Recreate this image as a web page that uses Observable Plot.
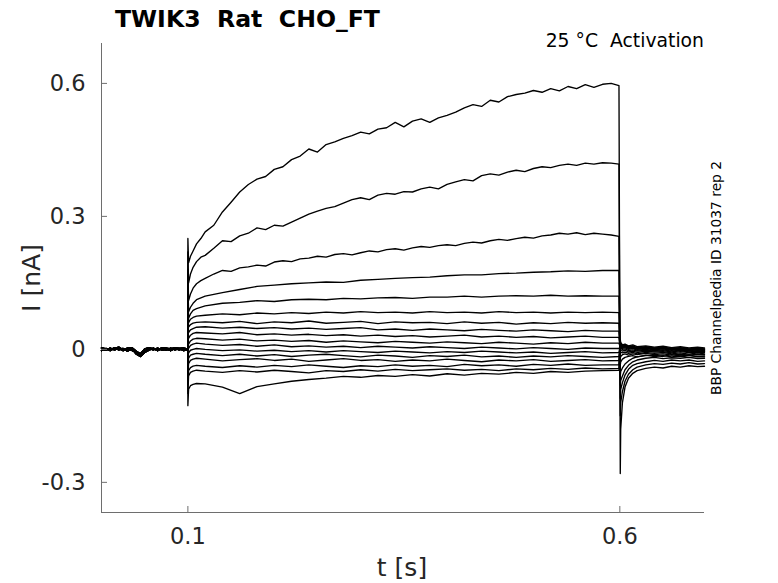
<!DOCTYPE html>
<html><head><meta charset="utf-8">
<script src="https://cdn.jsdelivr.net/npm/d3@7"></script>
<script src="https://cdn.jsdelivr.net/npm/@observablehq/plot@0.6"></script>
<style>body{margin:0;background:#fff} svg{display:block}</style>
</head><body><div id="chart"></div>
<script>
// ---- data (current in nA, time in s) ----
const xTicks = [0.1, 0.6];
const yTicks = [-0.3, 0, 0.3, 0.6];
const yTickLabels = ["-0.3", "0", "0.3", "0.6"];

const baseTimes = [0,0.005,0.01,0.015,0.02,0.025,0.03,0.035,0.04,0.045,0.05,0.055,0.06,0.065,0.07,0.075,0.08,0.085,0.09,0.095,0.0998];
const baseA = [0.002,-0.002,0.003,-0.001,0.002,-0.003,0.001,-0.002,-0.006,-0.012,-0.004,0.002,-0.001,0.003,-0.002,0.001,-0.003,0.002,-0.001,0.002,0.0];
const baseB = [-0.003,0.002,-0.002,0.004,-0.001,0.002,-0.004,0.001,-0.01,-0.016,-0.007,-0.002,0.003,-0.003,0.002,-0.002,0.003,-0.001,0.002,-0.003,-0.001];
const baseC = [0.004,0.001,-0.003,0.002,0.005,-0.001,0.003,0.004,-0.004,-0.01,0.001,0.004,0.001,-0.002,0.004,0.003,0.001,0.004,0.002,0.003,0.001];

// finer sampling for the three largest sweeps
const fineTimes = [0.1,0.1008,0.103,0.106,0.11,0.115,
  0.12,0.13,0.14,0.15,0.16,0.17,0.18,0.19,0.2,0.21,
  0.22,0.23,0.24,0.25,0.26,0.27,0.28,0.29,0.3,0.31,
  0.32,0.33,0.34,0.35,0.36,0.37,0.38,0.39,0.4,0.41,
  0.42,0.43,0.44,0.45,0.46,0.47,0.48,0.49,0.5,0.51,
  0.52,0.53,0.54,0.55,0.56,0.57,0.58,0.59,0.599];
const step01 = [0.25,0.195,0.21,0.222,0.238,0.25,
  0.265,0.28,0.31,0.332,0.355,0.372,0.384,0.39,0.406,0.412,
  0.428,0.436,0.452,0.445,0.462,0.468,0.476,0.482,0.49,0.486,
  0.497,0.5,0.512,0.502,0.515,0.52,0.512,0.522,0.528,0.535,
  0.545,0.552,0.548,0.562,0.558,0.57,0.575,0.578,0.584,0.58,
  0.588,0.583,0.593,0.588,0.597,0.591,0.598,0.6,0.595];
const step02 = [0.22,0.15,0.17,0.185,0.198,0.208,
  0.212,0.228,0.245,0.243,0.256,0.262,0.274,0.27,0.28,0.278,
  0.287,0.296,0.305,0.312,0.318,0.322,0.33,0.338,0.342,0.338,
  0.348,0.352,0.35,0.356,0.355,0.362,0.366,0.362,0.372,0.378,
  0.383,0.38,0.392,0.396,0.393,0.4,0.404,0.401,0.408,0.412,
  0.41,0.415,0.418,0.415,0.42,0.418,0.421,0.42,0.418];
const step03 = [0.18,0.11,0.125,0.138,0.148,0.155,
  0.16,0.17,0.178,0.176,0.184,0.186,0.19,0.188,0.197,0.2,
  0.198,0.204,0.206,0.21,0.208,0.214,0.216,0.213,0.218,0.222,
  0.22,0.225,0.227,0.224,0.229,0.232,0.23,0.234,0.236,0.234,
  0.239,0.242,0.24,0.245,0.248,0.246,0.25,0.253,0.251,0.256,
  0.258,0.262,0.26,0.263,0.259,0.262,0.26,0.258,0.255];

const stepTimes = [0.1,0.1008,0.103,0.106,0.11,0.12,0.14,0.16,0.18,0.2,0.22,0.24,0.26,0.28,0.3,0.32,0.34,0.36,0.38,0.4,0.42,0.44,0.46,0.48,0.5,0.52,0.54,0.56,0.58,0.599];
const step04 = [0.15,0.085,0.095,0.104,0.112,0.12,0.128,0.135,0.142,0.145,0.148,0.15,0.152,0.151,0.156,0.158,0.16,0.162,0.163,0.166,0.168,0.168,0.171,0.172,0.174,0.175,0.177,0.176,0.178,0.178];
const step05 = [0.12,0.07,0.08,0.088,0.092,0.098,0.104,0.106,0.11,0.108,0.112,0.113,0.112,0.115,0.114,0.116,0.117,0.115,0.118,0.118,0.12,0.118,0.12,0.121,0.12,0.122,0.12,0.121,0.12,0.12];
const step06 = [0.1,0.06,0.068,0.072,0.075,0.077,0.08,0.078,0.082,0.08,0.083,0.081,0.084,0.082,0.085,0.083,0.084,0.082,0.085,0.083,0.084,0.082,0.085,0.083,0.084,0.082,0.084,0.083,0.084,0.083];
const step07 = [0.08,0.05,0.056,0.059,0.061,0.062,0.06,0.063,0.058,0.062,0.06,0.064,0.059,0.061,0.063,0.058,0.062,0.06,0.061,0.058,0.062,0.059,0.061,0.057,0.06,0.058,0.061,0.059,0.06,0.059];
const step08 = [0.06,0.038,0.044,0.047,0.05,0.051,0.048,0.05,0.047,0.049,0.046,0.048,0.045,0.047,0.049,0.044,0.046,0.043,0.046,0.044,0.042,0.045,0.043,0.041,0.044,0.042,0.04,0.043,0.041,0.041];
const step09 = [0.045,0.025,0.032,0.036,0.038,0.037,0.035,0.038,0.033,0.035,0.032,0.034,0.031,0.033,0.03,0.032,0.029,0.031,0.028,0.03,0.032,0.028,0.03,0.027,0.029,0.026,0.028,0.03,0.027,0.027];
const step10 = [0.03,0.012,0.019,0.023,0.025,0.024,0.021,0.023,0.019,0.021,0.018,0.02,0.016,0.019,0.017,0.015,0.018,0.016,0.014,0.017,0.015,0.013,0.016,0.014,0.012,0.015,0.013,0.016,0.014,0.014];
const step11 = [0.02,0.002,0.009,0.012,0.014,0.012,0.009,0.011,0.007,0.01,0.006,0.008,0.005,0.007,0.004,0.007,0.005,0.003,0.006,0.004,0.002,0.005,0.003,0.001,0.004,0.002,0.0,0.003,0.002,0.002];
const step12 = [-0.02,-0.008,-0.002,0.0,0.002,0.0,-0.003,-0.001,-0.004,-0.002,-0.005,-0.003,-0.006,-0.003,-0.005,-0.007,-0.004,-0.006,-0.008,-0.005,-0.007,-0.004,-0.006,-0.008,-0.006,-0.009,-0.007,-0.005,-0.008,-0.007];
const step13 = [-0.04,-0.02,-0.013,-0.011,-0.009,-0.011,-0.014,-0.011,-0.015,-0.012,-0.016,-0.013,-0.011,-0.014,-0.017,-0.013,-0.015,-0.018,-0.014,-0.016,-0.013,-0.017,-0.015,-0.018,-0.015,-0.017,-0.014,-0.016,-0.018,-0.016];
const step14 = [-0.06,-0.032,-0.025,-0.022,-0.02,-0.022,-0.026,-0.023,-0.021,-0.025,-0.022,-0.027,-0.024,-0.021,-0.025,-0.023,-0.027,-0.024,-0.026,-0.022,-0.025,-0.028,-0.024,-0.026,-0.023,-0.027,-0.025,-0.023,-0.026,-0.025];
const step15 = [-0.08,-0.048,-0.041,-0.038,-0.036,-0.038,-0.041,-0.037,-0.04,-0.036,-0.039,-0.035,-0.038,-0.041,-0.037,-0.039,-0.035,-0.038,-0.036,-0.039,-0.034,-0.037,-0.035,-0.038,-0.034,-0.036,-0.033,-0.036,-0.035,-0.035];
const step16 = [-0.1,-0.06,-0.052,-0.049,-0.047,-0.049,-0.052,-0.048,-0.051,-0.047,-0.05,-0.053,-0.048,-0.05,-0.046,-0.049,-0.045,-0.048,-0.046,-0.044,-0.047,-0.045,-0.048,-0.044,-0.046,-0.043,-0.045,-0.042,-0.044,-0.043];
const step17 = [-0.127,-0.09,-0.082,-0.079,-0.077,-0.078,-0.085,-0.1,-0.084,-0.078,-0.072,-0.068,-0.065,-0.061,-0.063,-0.059,-0.061,-0.057,-0.06,-0.055,-0.058,-0.054,-0.056,-0.052,-0.054,-0.05,-0.052,-0.049,-0.048,-0.047];

const tailTimes = [0.6005,0.601,0.603,0.606,0.61,0.615,0.62,0.63,0.64,0.65,0.66,0.67,0.68,0.69,0.698];
const tail01 = [-0.28,-0.18,-0.12,-0.085,-0.065,-0.054,-0.048,-0.043,-0.04,-0.042,-0.038,-0.04,-0.037,-0.039,-0.038];
const tail02 = [-0.15,-0.12,-0.095,-0.072,-0.056,-0.046,-0.04,-0.035,-0.032,-0.034,-0.031,-0.033,-0.03,-0.033,-0.032];
const tail03 = [-0.11,-0.09,-0.075,-0.058,-0.045,-0.036,-0.032,-0.028,-0.025,-0.027,-0.024,-0.026,-0.024,-0.027,-0.026];
const tail04 = [-0.08,-0.07,-0.06,-0.046,-0.036,-0.028,-0.024,-0.02,-0.018,-0.021,-0.019,-0.02,-0.018,-0.021,-0.02];
const tail05 = [-0.06,-0.05,-0.042,-0.033,-0.026,-0.02,-0.017,-0.014,-0.013,-0.016,-0.012,-0.015,-0.013,-0.016,-0.015];
const tail06 = [-0.035,-0.028,-0.022,-0.018,-0.016,-0.014,-0.017,-0.013,-0.016,-0.014,-0.017,-0.015,-0.018,-0.016,-0.017];
const tail07 = [-0.02,-0.016,-0.012,-0.01,-0.013,-0.01,-0.012,-0.009,-0.012,-0.01,-0.013,-0.011,-0.013,-0.011,-0.012];
const tail08 = [-0.008,-0.006,-0.008,-0.006,-0.009,-0.007,-0.01,-0.007,-0.009,-0.007,-0.01,-0.008,-0.011,-0.008,-0.01];
const tail09 = [0.0,0.0,-0.004,-0.002,-0.006,-0.004,-0.007,-0.004,-0.006,-0.005,-0.008,-0.005,-0.007,-0.006,-0.007];
const tail10 = [0.004,0.004,0.0,0.001,-0.003,-0.001,-0.004,-0.002,-0.004,-0.003,-0.006,-0.003,-0.006,-0.004,-0.005];
const tail11 = [0.007,0.006,0.002,0.004,0.0,0.002,-0.002,0.0,-0.003,-0.001,-0.004,-0.002,-0.004,-0.003,-0.004];
const tail12 = [0.009,0.008,0.004,0.006,0.002,0.004,0.0,0.002,-0.001,0.001,-0.002,0.0,-0.003,-0.001,-0.003];
const tail13 = [0.011,0.01,0.005,0.007,0.003,0.005,0.001,0.003,0.0,0.002,-0.001,0.001,-0.002,0.0,-0.002];
const tail14 = [0.013,0.011,0.006,0.008,0.004,0.006,0.002,0.004,0.001,0.003,0.0,0.002,-0.001,0.001,-0.001];
const tail15 = [0.015,0.012,0.007,0.009,0.005,0.007,0.003,0.005,0.002,0.004,0.001,0.003,0.0,0.002,0.0];
const tail16 = [0.017,0.013,0.008,0.01,0.006,0.008,0.004,0.006,0.003,0.005,0.002,0.004,0.001,0.003,0.001];
const tail17 = [0.022,0.016,0.01,0.012,0.008,0.01,0.006,0.008,0.005,0.007,0.004,0.006,0.003,0.005,0.003];

const title = "TWIK3\u00a0\u00a0Rat\u00a0\u00a0CHO_FT";
const subtitle = "25 \u00b0C\u00a0\u00a0Activation";
const sideNote = "BBP Channelpedia ID 31037 rep 2";

// ---- assemble table ----
const steps = [step01,step02,step03,step04,step05,step06,step07,step08,step09,step10,step11,step12,step13,step14,step15,step16,step17];
const stepTimeSets = steps.map((s, i) => i < 3 ? fineTimes : stepTimes);
const tails = [tail01,tail02,tail03,tail04,tail05,tail06,tail07,tail08,tail09,tail10,tail11,tail12,tail13,tail14,tail15,tail16,tail17];
const bases = [baseA, baseB, baseC];
const rows = [];
steps.forEach((s, i) => {
  const b = bases[i % 3];
  baseTimes.forEach((t, j) => rows.push({t, I: b[j], sweep: i}));
  stepTimeSets[i].forEach((t, j) => rows.push({t, I: s[j], sweep: i}));
  tailTimes.forEach((t, j) => rows.push({t, I: tails[i][j], sweep: i}));
});

const axisGray = "#6e6e6e";
const textColor = "#262626";

const chart = Plot.plot({
  width: 778, height: 583,
  marginLeft: 101, marginRight: 74, marginTop: 43, marginBottom: 71,
  style: {fontFamily: "DejaVu Sans", background: "#fff", color: textColor},
  x: {domain: [0, 0.698]},
  y: {domain: [-0.368, 0.69]},
  marks: [
    Plot.ruleX([0], {stroke: axisGray, strokeWidth: 1}),
    Plot.ruleY([-0.368], {stroke: axisGray, strokeWidth: 1}),
    Plot.line(rows, {x: "t", y: "I", z: "sweep", stroke: "#000", strokeWidth: 1.35, curve: "linear"}),
    Plot.axisX({ticks: xTicks, tickSize: -6, tickPadding: 22, tickFormat: d => String(d), stroke: axisGray, fill: textColor, fontSize: 22.5, label: null}),
    Plot.axisY({ticks: yTicks, tickSize: -6, tickPadding: 22, tickFormat: d => yTickLabels[yTicks.indexOf(d)], stroke: axisGray, fill: textColor, fontSize: 22.5, label: null})
  ]
});
document.getElementById("chart").appendChild(chart);

const svg = d3.select(chart);
svg.append("text").attr("x", 115).attr("y", 27).attr("text-anchor", "start").attr("font-size", 23.6).attr("font-weight", "bold").attr("fill", "#000").text(title);
svg.append("text").attr("x", 704).attr("y", 47).attr("text-anchor", "end").attr("font-size", 18.8).attr("fill", "#000").text(subtitle);
svg.append("text").attr("transform", "translate(721,278) rotate(-90)").attr("text-anchor", "middle").attr("font-size", 13.8).attr("fill", "#000").text(sideNote);
svg.append("text").attr("x", 402).attr("y", 576).attr("text-anchor", "middle").attr("font-size", 25).attr("fill", textColor).text("t [s]");
svg.append("text").attr("transform", "translate(40,278) rotate(-90)").attr("text-anchor", "middle").attr("font-size", 25).attr("fill", textColor).text("I [nA]");
</script></body></html>
